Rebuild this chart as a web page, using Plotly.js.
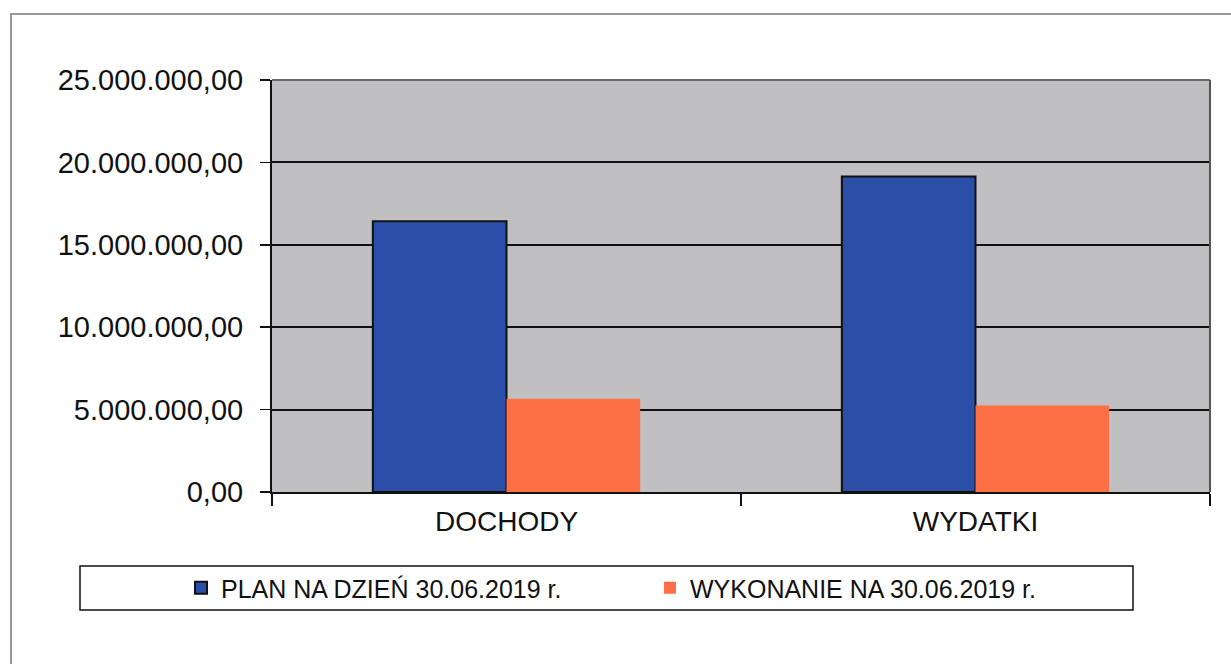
<!DOCTYPE html>
<html>
<head>
<meta charset="utf-8">
<script src="https://cdn.plot.ly/plotly-3.0.1.min.js"></script>
<style>html,body{margin:0;padding:0;background:#fff;}#chart{width:1231px;height:664px;}</style>
</head>
<body>
<div id="chart"></div>
<script>
const categories = ["DOCHODY", "WYDATKI"];
const planValues = [16430000, 19150000];
const wykonanieValues = [5660000, 5250000];
const seriesNames = ["PLAN NA DZIEŃ 30.06.2019 r.", "WYKONANIE NA 30.06.2019 r."];
const yTicks = [0, 5000000, 10000000, 15000000, 20000000, 25000000];

const FONT = "Liberation Sans, Arial, sans-serif";

const traces = [
  {
    type: "bar", name: seriesNames[0], x: categories, y: planValues,
    marker: {color: "#2b4fa8", line: {color: "#111", width: 2}}
  },
  {
    type: "bar", name: seriesNames[1], x: categories, y: wykonanieValues,
    marker: {color: "#fd6f45", line: {color: "#fd6f45", width: 0}}
  }
];

const layout = {
  width: 1231, height: 664,
  margin: {l: 272, r: 21, t: 80, b: 172},
  paper_bgcolor: "#ffffff",
  plot_bgcolor: "#c0c0c2",
  separators: ",.",
  barmode: "group",
  bargap: 0.43,
  bargroupgap: 0,
  font: {family: FONT, color: "#111"},
  showlegend: true,
  legend: {
    orientation: "h",
    xref: "container", yref: "container",
    x: 181/1231, xanchor: "left",
    y: 1 - 588/664, yanchor: "middle",
    bgcolor: "rgba(0,0,0,0)",
    borderwidth: 0,
    font: {family: FONT, size: 25, color: "#111"},
    entrywidthmode: "pixels",
    entrywidth: 424,
    itemwidth: 30,
    traceorder: "normal"
  },
  xaxis: {
    type: "category",
    tickson: "boundaries",
    ticks: "outside", ticklen: 12, tickwidth: 1.5, tickcolor: "#111",
    showline: true, linecolor: "#111", linewidth: 2,
    showgrid: false,
    tickfont: {family: FONT, size: 28, color: "#111"},
    ticklabelstandoff: 3
  },
  yaxis: {
    range: [0, 25000000],
    tickvals: yTicks,
    tickformat: ",.2f",
    ticks: "outside", ticklen: 10, tickwidth: 1.5, tickcolor: "#111",
    showline: true, linecolor: "#111", linewidth: 2,
    showgrid: true, gridcolor: "#111", gridwidth: 2,
    zeroline: false,
    tickfont: {family: FONT, size: 29, color: "#111"},
    ticklabelstandoff: 11
  },
  shapes: [
    {type: "line", xref: "paper", yref: "paper", x0: 0, x1: 1, y0: 1, y1: 1, line: {color: "#6a6a6a", width: 2}, layer: "above"},
    {type: "line", xref: "paper", yref: "paper", x0: 1, x1: 1, y0: 0, y1: 1, line: {color: "#555", width: 2}, layer: "above"},
    {type: "rect", xref: "paper", yref: "paper", x0: (80-272)/938, x1: (1133-272)/938, y0: (492-610)/412, y1: (492-566)/412, line: {color: "#111", width: 1.5}, fillcolor: "rgba(0,0,0,0)"},
    {type: "rect", xref: "paper", yref: "paper", x0: (11-272)/938, x1: (1245-272)/938, y0: (492-690)/412, y1: (492-14)/412, line: {color: "#777", width: 1.5}, fillcolor: "rgba(0,0,0,0)"}
  ]
};

Plotly.newPlot("chart", traces, layout, {displayModeBar: false, staticPlot: true});
</script>
</body>
</html>
